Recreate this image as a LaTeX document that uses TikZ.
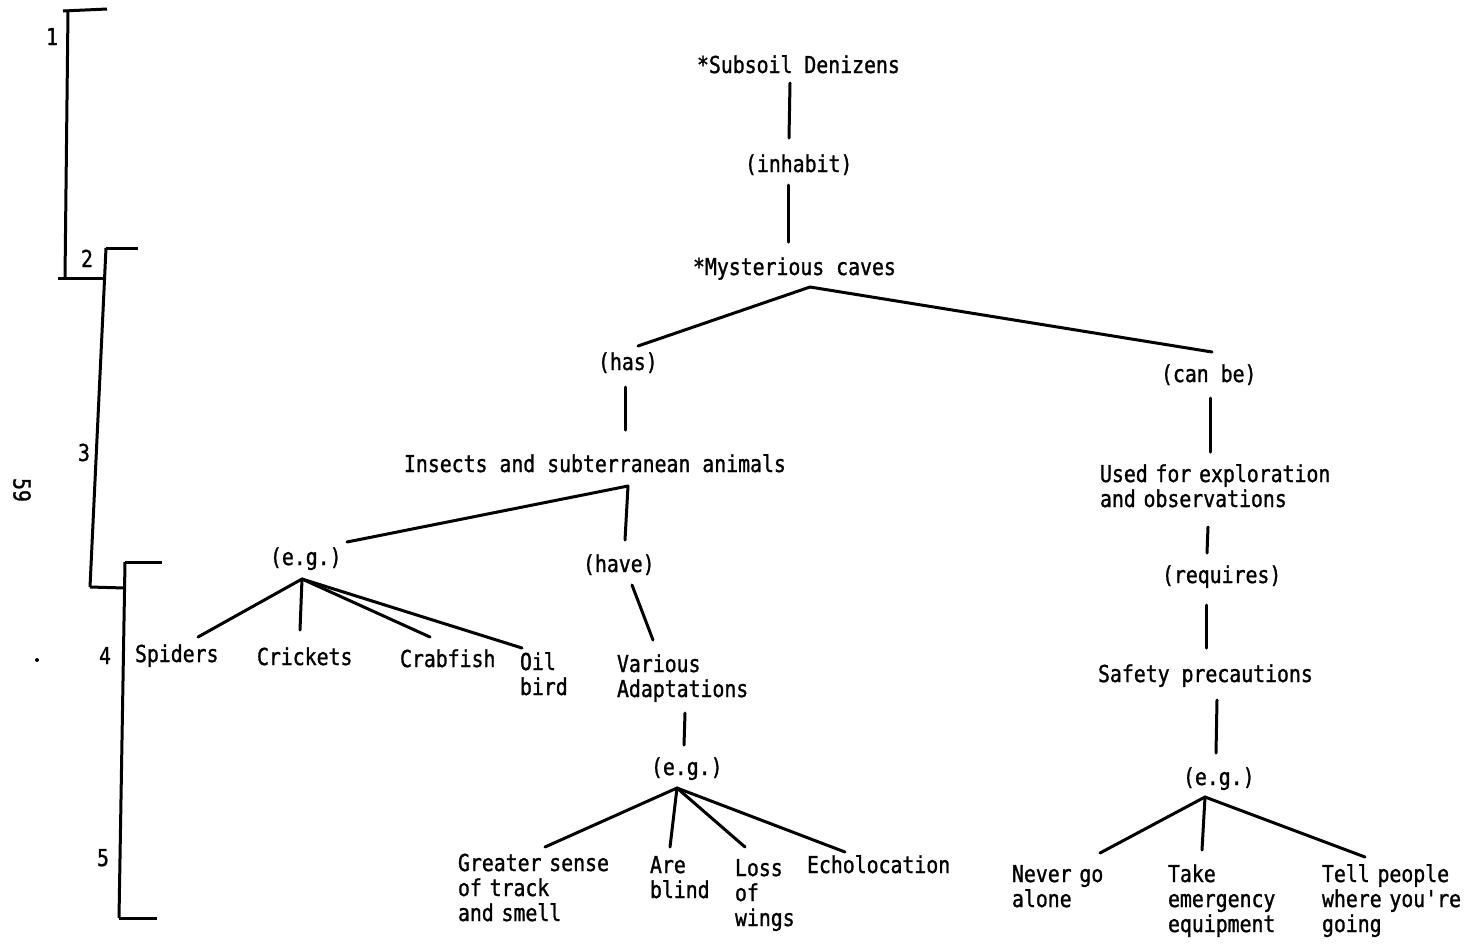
\documentclass[tikz,border=0pt]{standalone}
\usepackage{fontspec}
\newfontfamily\tw{DejaVu Sans Mono}[FakeStretch=0.85,FakeBold=1.2]
\begin{document}
\begin{tikzpicture}[x=0.5pt,y=-0.5pt,
  every node/.style={inner sep=0pt,outer sep=0pt},
  lbl/.style={font={\tw\fontsize{11.66pt}{12.5pt}\selectfont},anchor=base west},
  multi/.style={lbl,text width=200pt,align=left},
  num/.style={font={\tw\fontsize{11.66pt}{12.5pt}\selectfont},anchor=base},
  link/.style={line width=1.5pt,line cap=round},
  bracket/.style={line width=1.5pt}]
\useasboundingbox (0,0) rectangle (1472,944);

% level brackets on the left margin
\draw[bracket] (63,11) -- (107,9);
\draw[bracket] (68,11) -- (65,278);
\draw[bracket] (58,278) -- (103,278);
\draw[bracket] (106,248) -- (138,248);
\draw[bracket] (106,248) -- (90,587);
\draw[bracket] (90,587) -- (125,588);
\draw[bracket] (125,562) -- (162,562);
\draw[bracket] (125,562) -- (119,918);
\draw[bracket] (119,918) -- (157,918);
\node[num] (l1) at (52,45) {1};
\node[num] (l2) at (87,267) {2};
\node[num] (l3) at (84,461) {3};
\node[num] (l4) at (105,664) {4};
\node[num] (l5) at (103,866) {5};
\node[font={\tw\fontsize{11.66pt}{12.5pt}\selectfont},rotate=-90] (page) at (22,490) {59};
\fill (37,660) circle (2);

% concept nodes
\node[lbl] (subsoil) at (697,73) {*Subsoil Denizens};
\node[lbl] (inhabit) at (745,172) {(inhabit)};
\node[lbl] (caves) at (693,275) {*Mysterious caves};
\node[lbl] (has) at (598,370) {(has)};
\node[lbl] (canbe) at (1161,382) {(can be)};
\node[lbl] (insects) at (404,472) {Insects and subterranean animals};
\node[multi] (used) at (1100,482) {Used for exploration\\and observations};
\node[lbl] (egA) at (270,565) {(e.g.)};
\node[lbl] (have) at (583,572) {(have)};
\node[lbl] (requires) at (1162,583) {(requires)};
\node[lbl] (spiders) at (135,662) {Spiders};
\node[lbl] (crickets) at (257,665) {Crickets};
\node[lbl] (crabfish) at (400,667) {Crabfish};
\node[multi] (oil) at (520,670) {Oil\\bird};
\node[multi] (various) at (617,672) {Various\\Adaptations};
\node[lbl] (safety) at (1098,682) {Safety precautions};
\node[lbl] (egB) at (651,775) {(e.g.)};
\node[lbl] (egC) at (1183,785) {(e.g.)};
\node[multi] (greater) at (458,871) {Greater sense\\of track\\and smell};
\node[multi] (blind) at (650,873) {Are\\blind};
\node[multi] (loss) at (735,876) {Loss\\of\\wings};
\node[lbl] (echo) at (807,873) {Echolocation};
\node[multi] (never) at (1012,882) {Never go\\alone};
\node[multi] (take) at (1168,882) {Take\\emergency\\equipment};
\node[multi] (tell) at (1322,882) {Tell people\\where you're\\going};

% branching points
\coordinate (jcaves) at ([shift={(117,12)}]caves.base west);
\coordinate (jinsects) at ([shift={(224,14)}]insects.base west);
\coordinate (jegA) at ([shift={(32,14)}]egA.base west);
\coordinate (jegB) at ([shift={(26,13)}]egB.base west);
\coordinate (jegC) at ([shift={(22,12)}]egC.base west);

% connectors
\draw[link] ([shift={(93,10)}]subsoil.base west) -- ([shift={(44,-34)}]inhabit.base west);
\draw[link] ([shift={(43,13)}]inhabit.base west) -- ([shift={(95,-33)}]caves.base west);
\draw[link] (jcaves) -- ([shift={(40,-24)}]has.base west);
\draw[link] (jcaves) -- ([shift={(51,-30)}]canbe.base west);
\draw[link] ([shift={(27,17)}]has.base west) -- ([shift={(221,-42)}]insects.base west);
\draw[link] (jinsects) -- ([shift={(77,-23)}]egA.base west);
\draw[link] (jinsects) -- ([shift={(42,-32)}]have.base west);
\draw[link] ([shift={(49,16)}]canbe.base west) -- ([shift={(110,-30)}]used.base west);
\draw[link] ([shift={(108,45)}]used.base west) -- ([shift={(45,-30)}]requires.base west);
\draw[link] ([shift={(44,22)}]requires.base west) -- ([shift={(108,-34)}]safety.base west);
\draw[link] ([shift={(119,18)}]safety.base west) -- ([shift={(33,-32)}]egC.base west);
\draw[link] (jegA) -- ([shift={(63,-25)}]spiders.base west);
\draw[link] (jegA) -- ([shift={(43,-35)}]crickets.base west);
\draw[link] (jegA) -- ([shift={(30,-30)}]crabfish.base west);
\draw[link] (jegA) -- ([shift={(2,-22)}]oil.base west);
\draw[link] ([shift={(49,13)}]have.base west) -- ([shift={(36,-32)}]various.base west);
\draw[link] ([shift={(68,41)}]various.base west) -- ([shift={(33,-30)}]egB.base west);
\draw[link] (jegB) -- ([shift={(87,-24)}]greater.base west);
\draw[link] (jegB) -- ([shift={(20,-26)}]blind.base west);
\draw[link] (jegB) -- ([shift={(10,-29)}]loss.base west);
\draw[link] (jegB) -- ([shift={(38,-21)}]echo.base west);
\draw[link] (jegC) -- ([shift={(88,-29)}]never.base west);
\draw[link] (jegC) -- ([shift={(34,-32)}]take.base west);
\draw[link] (jegC) -- ([shift={(43,-25)}]tell.base west);
\end{tikzpicture}
\end{document}
